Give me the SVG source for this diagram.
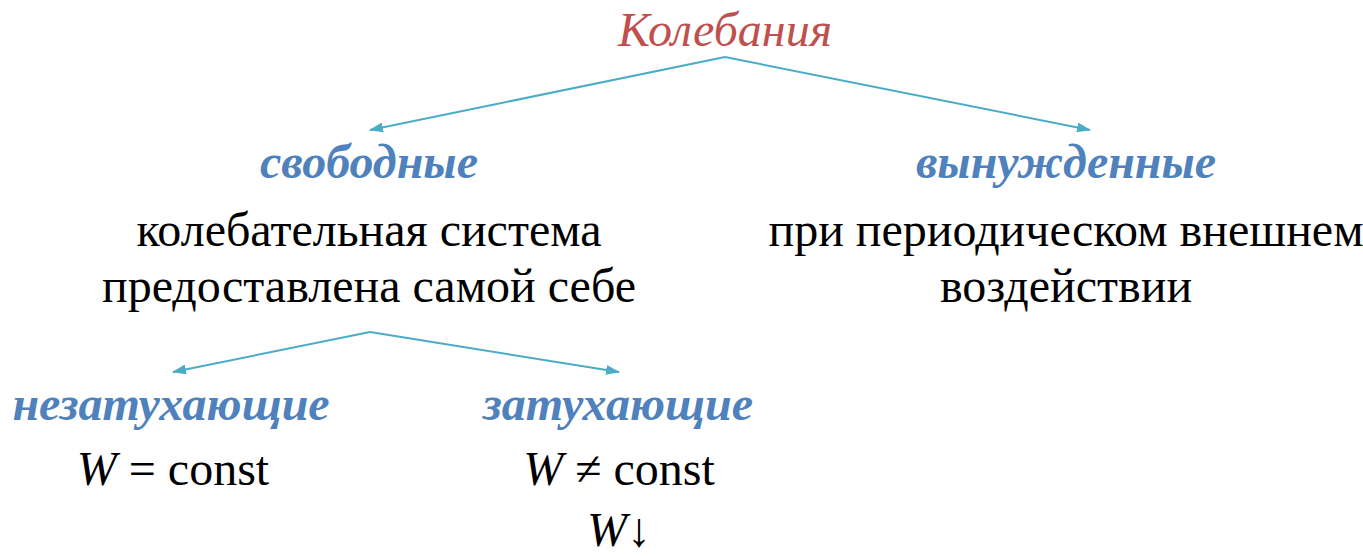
<svg xmlns="http://www.w3.org/2000/svg" width="1363" height="556" viewBox="0 0 1363 556">
<style>
.t{font-family:"Liberation Serif","Times New Roman",serif;text-anchor:middle}
.title{font-style:italic;fill:#C0504D;font-size:48px}
.h{font-style:italic;font-weight:bold;fill:#4F81BD;font-size:48px}
.b{fill:#000;font-size:48px}
.m{font-family:"Liberation Serif",serif;font-style:italic}
.c{fill:none;stroke:#4BACC6;stroke-width:2}
</style>
<defs>
<marker id="arr" markerWidth="14" markerHeight="10" refX="13" refY="5" orient="auto" markerUnits="userSpaceOnUse">
<path d="M0,0 L14,5 L0,10 Z" fill="#4BACC6"/>
</marker>
</defs>
<g id="connectors">
<path class="c" d="M725,57 L370,130" marker-end="url(#arr)"/>
<path class="c" d="M725,57 L1090,130" marker-end="url(#arr)"/>
<path class="c" d="M370,332 L173,372" marker-end="url(#arr)"/>
<path class="c" d="M370,332 L619,372" marker-end="url(#arr)"/>
</g>
<g id="root"><text class="t title" x="725" y="46">Колебания</text></g>
<g id="free">
<text class="t h" x="369" y="178">свободные</text>
<text class="t b" x="369" y="246">колебательная система</text>
<text class="t b" x="369" y="302">предоставлена самой себе</text>
</g>
<g id="forced">
<text class="t h" x="1066" y="178">вынужденные</text>
<text class="t b" x="1066" y="246">при периодическом внешнем</text>
<text class="t b" x="1066" y="302">воздействии</text>
</g>
<g id="undamped">
<text class="t h" x="171" y="420">незатухающие</text>
<text class="t b" x="173" y="485"><tspan class="m">W</tspan> = const</text>
</g>
<g id="damped">
<text class="t h" x="618" y="420">затухающие</text>
<text class="t b" x="619" y="485"><tspan class="m">W</tspan> ≠ const</text>
<text class="t b" x="619" y="546"><tspan class="m">W</tspan>↓</text>
</g>
</svg>
